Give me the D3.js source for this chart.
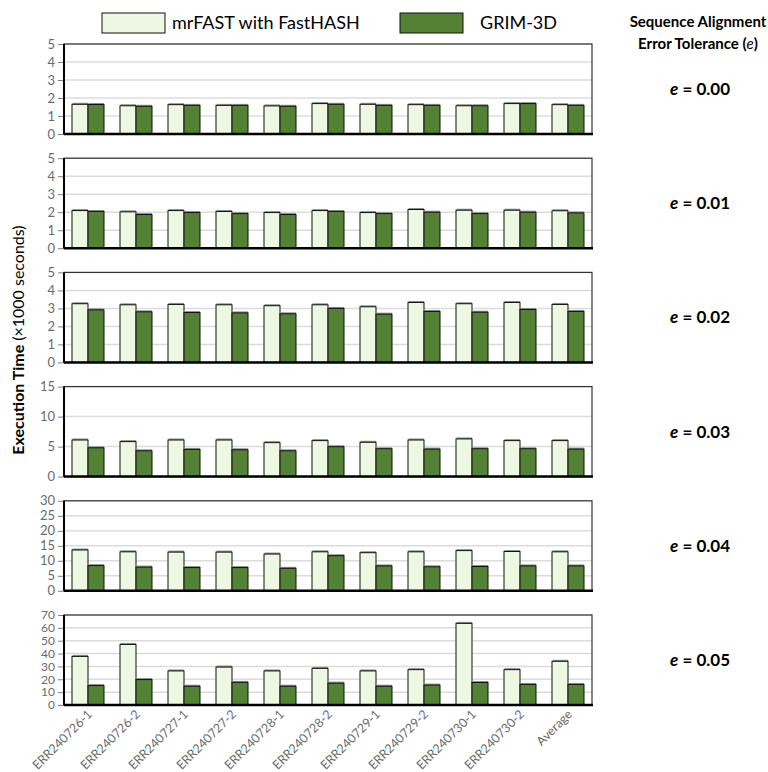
<!DOCTYPE html>
<html>
<head>
<meta charset="utf-8">
<script src="https://cdn.jsdelivr.net/npm/d3@7"></script>
<style>
  body { margin: 0; background: #fff; }
  svg text { font-family: Lato, "Open Sans", sans-serif; }
</style>
</head>
<body>
<div id="chart"></div>
<script>
// chart size
var width = 768;
var height = 772;

// data
var samples = ["ERR240726-1", "ERR240726-2", "ERR240727-1", "ERR240727-2", "ERR240728-1",
  "ERR240728-2", "ERR240729-1", "ERR240729-2", "ERR240730-1", "ERR240730-2", "Average"];
var seriesNames = ["mrFAST with FastHASH", "GRIM-3D"];
var tolerances = ["0.00", "0.01", "0.02", "0.03", "0.04", "0.05"];
var yMax = [5, 5, 5, 15, 30, 70];
var yStep = [1, 1, 1, 5, 5, 10];

var mrfast = [
  [1.65, 1.57, 1.63, 1.59, 1.56, 1.69, 1.65, 1.63, 1.57, 1.69, 1.63],
  [2.09, 2.02, 2.09, 2.04, 1.98, 2.09, 1.98, 2.15, 2.11, 2.11, 2.08],
  [3.26, 3.20, 3.22, 3.20, 3.15, 3.20, 3.09, 3.33, 3.26, 3.33, 3.22],
  [6.1, 5.83, 6.1, 6.1, 5.66, 6.0, 5.72, 6.1, 6.28, 6.0, 6.0],
  [13.6, 13.0, 12.9, 12.9, 12.25, 13.0, 12.7, 13.0, 13.4, 13.1, 13.0],
  [37.8, 47.1, 26.5, 29.5, 26.5, 28.5, 26.5, 27.5, 63.5, 27.5, 34.0]
];
var grim = [
  [1.64, 1.54, 1.59, 1.59, 1.54, 1.65, 1.59, 1.59, 1.57, 1.69, 1.59],
  [2.04, 1.87, 1.98, 1.92, 1.87, 2.04, 1.92, 2.0, 1.92, 2.0, 1.96],
  [2.92, 2.81, 2.77, 2.75, 2.70, 3.0, 2.68, 2.83, 2.79, 2.94, 2.83],
  [4.8, 4.3, 4.53, 4.47, 4.3, 4.98, 4.64, 4.58, 4.64, 4.64, 4.58],
  [8.4, 7.9, 7.75, 7.75, 7.5, 11.7, 8.3, 8.0, 8.1, 8.3, 8.3],
  [15.1, 19.8, 14.6, 17.6, 14.6, 17.0, 14.6, 15.5, 17.5, 16.0, 16.0]
];

var colors = ["#eef7e1", "#548235"];

// layout
var plotLeft = 64, plotRight = 592;
var panelTop = 44, panelH = 90, panelGap = 114.2;

var svg = d3.select("#chart")
  .append("svg")
  .attr("width", width)
  .attr("height", height);

var x0 = d3.scaleBand()
  .domain(samples)
  .range([plotLeft, plotRight])
  .paddingInner(1 / 3)
  .paddingOuter(1 / 6);

var x1 = d3.scaleBand()
  .domain([0, 1])
  .range([0, x0.bandwidth()]);

tolerances.forEach(function(tol, p) {
  var top = panelTop + p * panelGap;
  var y = d3.scaleLinear()
    .domain([0, yMax[p]])
    .range([top + panelH, top]);
  var ticks = d3.range(0, yMax[p] + 0.001, yStep[p]);

  var g = svg.append("g").attr("class", "panel");

  // grid lines
  g.selectAll("line.grid")
    .data(ticks.slice(1))
    .enter()
    .append("line")
    .attr("x1", plotLeft)
    .attr("x2", plotRight)
    .attr("y1", function(d) { return y(d); })
    .attr("y2", function(d) { return y(d); })
    .style("stroke", "#dcdcdc")
    .style("stroke-width", 1.5);

  // y axis
  var yAxis = g.append("g")
    .attr("transform", "translate(" + plotLeft + ",0)")
    .call(d3.axisLeft(y).tickValues(ticks).tickFormat(d3.format("d")).tickSize(6).tickPadding(3));
  yAxis.select(".domain").remove();
  yAxis.selectAll("line").style("stroke", "#808080");
  yAxis.selectAll("text")
    .style("fill", "#6b6b6b")
    .style("font-size", ticks.length > 7 ? "12px" : "13px");

  // bars
  var groups = g.selectAll("g.grp")
    .data(samples)
    .enter()
    .append("g")
    .attr("transform", function(d) { return "translate(" + x0(d) + ",0)"; });

  [mrfast[p], grim[p]].forEach(function(vals, s) {
    groups.append("rect")
      .attr("x", x1(s) + 0.5)
      .attr("y", function(d, i) { return y(vals[i]) - 1.5; })
      .attr("width", x1.bandwidth() - 0.5)
      .attr("height", function(d, i) { return y(0) - y(vals[i]) + 1.5; })
      .style("fill", "#8f8f8f");
    groups.append("rect")
      .attr("x", x1(s))
      .attr("y", function(d, i) { return y(vals[i]); })
      .attr("width", x1.bandwidth())
      .attr("height", function(d, i) { return y(0) - y(vals[i]); })
      .style("fill", colors[s])
      .style("stroke", "#111")
      .style("stroke-width", 1);
  });

  // frame
  g.append("rect")
    .attr("x", plotLeft)
    .attr("y", top)
    .attr("width", plotRight - plotLeft)
    .attr("height", panelH)
    .style("fill", "none")
    .style("stroke", "#333")
    .style("stroke-width", 1.2);
  g.append("line")
    .attr("x1", plotLeft).attr("x2", plotLeft)
    .attr("y1", top).attr("y2", top + panelH)
    .style("stroke", "#000").style("stroke-width", 2);
  g.append("line")
    .attr("x1", plotLeft).attr("x2", plotRight + 1)
    .attr("y1", y(0)).attr("y2", y(0))
    .style("stroke", "#000").style("stroke-width", 2.5);

  // tolerance label
  var lbl = svg.append("text")
    .attr("x", 700)
    .attr("y", top + panelH / 2)
    .attr("dy", ".35em")
    .attr("text-anchor", "middle")
    .style("font-size", "17px")
    .style("font-weight", "bold")
    .style("fill", "#000");
  lbl.append("tspan").style("font-style", "italic").text("e");
  lbl.append("tspan").text(" = " + tol);

  // x labels on the last panel only
  if (p === tolerances.length - 1) {
    svg.selectAll("text.xlab")
      .data(samples)
      .enter()
      .append("text")
      .attr("class", "xlab")
      .attr("text-anchor", "end")
      .attr("transform", function(d) {
        return "translate(" + (x0(d) + x0.bandwidth() / 2 + 5) + "," + (y(0) + 10) + ") rotate(-45)";
      })
      .style("font-size", "12.5px")
      .style("fill", "#6b6b6b")
      .text(function(d) { return d; });
  }
});

// y axis title
var yt = svg.append("text")
  .attr("transform", "translate(24,340) rotate(-90)")
  .attr("text-anchor", "middle")
  .style("font-size", "16px")
  .style("fill", "#000");
yt.append("tspan").style("font-weight", "bold").text("Execution Time ");
yt.append("tspan").text("(\u00d71000 seconds)");

// legend
var legend = svg.append("g")
  .selectAll("g")
  .data(seriesNames)
  .enter()
  .append("g")
  .attr("transform", function(d, i) { return "translate(" + (i === 0 ? 102 : 400) + ",13)"; });
legend.append("rect")
  .attr("width", 63)
  .attr("height", 20)
  .style("fill", function(d, i) { return colors[i]; })
  .style("stroke", "#111")
  .style("stroke-width", 1);
legend.append("text")
  .attr("x", function(d, i) { return i === 0 ? 70 : 80; })
  .attr("y", 10)
  .attr("dy", ".35em")
  .style("font-size", "18px")
  .style("fill", "#000")
  .text(function(d) { return d; });

// right header
svg.append("text")
  .attr("x", 698).attr("y", 27)
  .attr("text-anchor", "middle")
  .style("font-size", "15px")
  .style("font-weight", "bold")
  .text("Sequence Alignment");
var h2 = svg.append("text")
  .attr("x", 698).attr("y", 49)
  .attr("text-anchor", "middle")
  .style("font-size", "15px")
  .style("font-weight", "bold");
h2.append("tspan").text("Error Tolerance (");
h2.append("tspan").style("font-style", "italic").style("font-weight", "normal").text("e");
h2.append("tspan").text(")");
</script>
</body>
</html>
